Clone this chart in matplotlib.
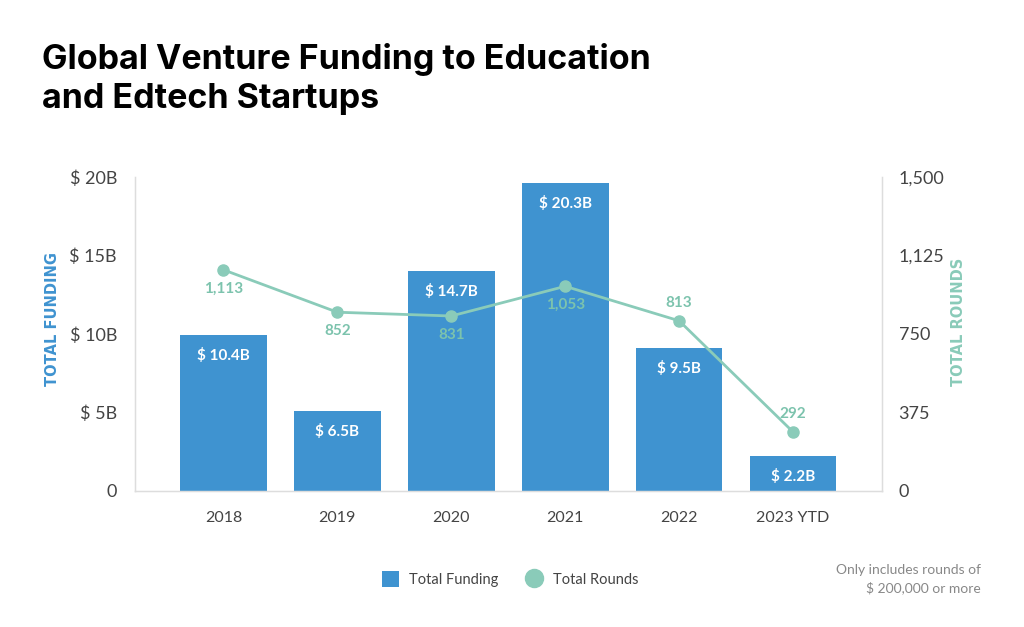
import matplotlib
matplotlib.use("Agg")
import matplotlib.pyplot as plt
from matplotlib.lines import Line2D
from matplotlib.patches import Patch

# Data (bar / point heights as drawn in the picture, labels as printed)
years = ["2018", "2019", "2020", "2021", "2022", "2023 YTD"]
funding = [9.92, 5.09, 14.0, 19.64, 9.11, 2.22]
funding_labels = ["$ 10.4B", "$ 6.5B", "$ 14.7B", "$ 20.3B", "$ 9.5B", "$ 2.2B"]
rounds = [1056, 853, 835, 977, 812, 280]
rounds_labels = ["1,113", "852", "831", "1,053", "813", "292"]
rounds_below = [True, True, True, True, False, False]

funding_ticks = [0, 5, 10, 15, 20]
funding_tick_labels = ["0", "$ 5B", "$ 10B", "$ 15B", "$ 20B"]
rounds_ticks = [0, 375, 750, 1125, 1500]
rounds_tick_labels = ["0", "375", "750", "1,125", "1,500"]

BLUE = "#3f93d0"
TEAL = "#8acbb9"
TEAL_TXT = "#7cc3ad"
GRID = "#dddddd"
TXT = "#444444"

plt.rcParams["font.family"] = ["Lato", "DejaVu Sans"]

fig = plt.figure(figsize=(10.24, 6.27), dpi=100)
ax = fig.add_axes([0.1318, 0.2177, 0.7295, 0.5])
x = list(range(len(years)))

ax.bar(x, funding, width=0.76, color=BLUE, zorder=2)
ax.set_xlim(-0.776, 5.78)
ax.set_ylim(0, 20)
ax.set_yticks(funding_ticks)
ax.set_yticklabels(funding_tick_labels, fontsize=13, color=TXT)
ax.set_xticks(x)
ax.set_xticklabels(years, fontsize=11.5, color=TXT)
ax.tick_params(length=0, axis="y", pad=13)
ax.tick_params(length=0, axis="x", pad=15)
ax.spines["top"].set_visible(False)
for s in ["left", "right", "bottom"]:
    ax.spines[s].set_color(GRID)
    ax.spines[s].set_linewidth(1)

for xi, h, lab in zip(x, funding, funding_labels):
    ax.annotate(lab, (xi, h), xytext=(0, -15), textcoords="offset points",
                ha="center", va="center", color="white", fontsize=11, fontweight="bold")

ax2 = ax.twinx()
ax2.plot(x, rounds, color=TEAL, lw=2, marker="o", ms=8, zorder=3)
ax2.set_ylim(0, 1500)
ax2.set_yticks(rounds_ticks)
ax2.set_yticklabels(rounds_tick_labels, fontsize=13, color=TXT)
ax2.tick_params(length=0, pad=12)
ax2.spines["top"].set_visible(False)
for s in ["left", "right", "bottom"]:
    ax2.spines[s].set_color(GRID)

for xi, r, lab, below in zip(x, rounds, rounds_labels, rounds_below):
    dy = -13.5 if below else 13
    ax2.annotate(lab, (xi, r), xytext=(0, dy), textcoords="offset points",
                 ha="center", va="center", color=TEAL_TXT, fontsize=11, fontweight="bold")

fig.text(0.051, 0.492, "TOTAL FUNDING", rotation=90, ha="center", va="center",
         color=BLUE, fontsize=10.5, fontweight="bold", family=["DejaVu Sans"])
fig.text(0.936, 0.487, "TOTAL ROUNDS", rotation=90, ha="center", va="center",
         color=TEAL, fontsize=10.5, fontweight="bold", family=["DejaVu Sans"])

fig.text(0.041, 0.874, "Global Venture Funding to Education\nand Edtech Startups",
         ha="left", va="center", fontsize=24.5, fontweight="bold", color="black",
         family=["Inter", "DejaVu Sans"], linespacing=1.3)

handles = [Patch(facecolor=BLUE, edgecolor="none"),
           Line2D([], [], marker="o", color="none", markerfacecolor=TEAL,
                  markeredgecolor=TEAL, ms=13)]
fig.legend(handles, ["Total Funding", "Total Rounds"], loc="center",
           bbox_to_anchor=(0.498, 0.076), ncol=2, frameon=False, fontsize=10.5,
           labelcolor=TXT, handlelength=1.2, handleheight=1.3, columnspacing=1.8,
           handletextpad=0.7)

fig.text(0.958, 0.077, "Only includes rounds of\n$ 200,000 or more", ha="right", va="center",
         fontsize=10, color="#888888", linespacing=1.5)

fig.savefig("out.png", dpi=100, facecolor="white")
